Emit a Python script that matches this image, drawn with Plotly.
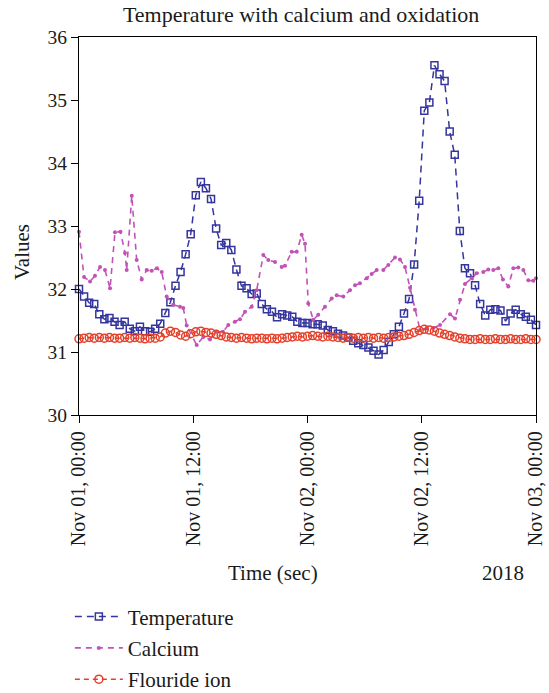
import pandas as pd
import plotly.graph_objects as go

# ---------------- data ----------------
start = pd.Timestamp("2018-11-01 00:00")
n_points = 91
grid_times = pd.date_range(start, periods=n_points, freq="32min")

temperature = [
    32.00, 31.88, 31.78, 31.76, 31.60, 31.52, 31.54, 31.48, 31.43, 31.48,
    31.37, 31.33, 31.40, 31.33, 31.32, 31.37, 31.45, 31.62, 31.79, 32.05,
    32.27, 32.55, 32.87, 33.49, 33.70, 33.60, 33.43, 32.96, 32.70, 32.73,
    32.62, 32.31, 32.05, 32.01, 31.92, 31.93, 31.76, 31.68, 31.64, 31.55,
    31.60, 31.58, 31.56, 31.48, 31.46, 31.46, 31.44, 31.44, 31.42, 31.35,
    31.33, 31.29, 31.26, 31.23, 31.18, 31.14, 31.11, 31.07, 31.02, 30.96,
    31.03, 31.16, 31.28, 31.40, 31.61, 31.84, 32.39, 33.40, 34.83, 34.96,
    35.55, 35.41, 35.30, 34.50, 34.13, 32.92, 32.33, 32.25, 32.06, 31.76,
    31.58, 31.67, 31.68, 31.66, 31.49, 31.61, 31.67, 31.60, 31.56, 31.51,
    31.43,
]

flouride = [
    31.21, 31.22, 31.23, 31.22, 31.23, 31.22, 31.23, 31.22, 31.22, 31.23,
    31.22, 31.23, 31.22, 31.21, 31.22, 31.22, 31.24, 31.30, 31.33, 31.31,
    31.27, 31.25, 31.29, 31.32, 31.33, 31.31, 31.30, 31.28, 31.26, 31.24,
    31.23, 31.22, 31.23, 31.22, 31.21, 31.22, 31.22, 31.21, 31.22, 31.21,
    31.22, 31.23, 31.24, 31.25, 31.24, 31.25, 31.26, 31.25, 31.24, 31.25,
    31.24, 31.23, 31.22, 31.23, 31.22, 31.23, 31.22, 31.23, 31.22, 31.23,
    31.22, 31.23, 31.24, 31.25, 31.26, 31.28, 31.31, 31.34, 31.36, 31.35,
    31.33, 31.30, 31.28, 31.26, 31.24, 31.22, 31.21, 31.20, 31.20, 31.21,
    31.20, 31.20, 31.21, 31.20, 31.20, 31.21, 31.20, 31.20, 31.21, 31.20,
    31.20,
]

calcium_hours = [
    0.00, 0.53, 1.16, 1.68, 2.21, 2.73, 3.26, 3.78, 4.36, 4.83,
    5.01, 5.54, 6.06, 6.59, 7.11, 7.64, 8.19, 8.69, 9.21, 9.90,
    10.61, 10.95, 11.31, 12.36, 13.06, 13.76, 14.46, 15.12, 15.68, 16.38,
    16.91, 17.44, 18.14, 18.66, 19.36, 19.88, 20.59, 21.29, 21.64, 22.34,
    22.87, 23.39, 23.74, 24.08, 24.61, 25.13, 25.84, 26.54, 27.07, 27.76,
    28.46, 28.99, 29.51, 30.22, 30.74, 31.27, 31.96, 32.49, 33.19, 33.71,
    34.24, 34.77, 35.29, 35.82, 36.52, 37.21, 37.92, 38.97, 39.49, 40.02,
    40.54, 41.25, 41.77, 42.46, 42.99, 43.51, 44.04, 44.53, 45.09, 45.62,
    46.14, 46.67, 47.19, 47.72, 48.00,
]
calcium = [
    32.91, 32.19, 32.12, 32.21, 32.35, 32.30, 32.01, 32.90, 32.91, 32.57,
    32.30, 33.48, 32.46, 32.15, 32.30, 32.29, 32.33, 32.27, 31.88, 31.75,
    31.72, 31.70, 31.42, 31.11, 31.24, 31.20, 31.32, 31.32, 31.43, 31.48,
    31.52, 31.64, 31.72, 31.98, 32.54, 32.46, 32.43, 32.35, 32.37, 32.59,
    32.59, 32.86, 32.72, 31.77, 31.51, 31.59, 31.72, 31.85, 31.90, 31.88,
    31.98, 32.06, 32.09, 32.17, 32.24, 32.30, 32.30, 32.38, 32.50, 32.47,
    32.35, 32.02, 31.67, 31.35, 31.38, 31.38, 31.43, 31.60, 31.53, 31.83,
    32.08, 32.17, 32.25, 32.27, 32.31, 32.30, 32.33, 32.15, 32.04, 32.33,
    32.34, 32.30, 32.14, 32.13, 32.17,
]
calcium_times = start + pd.to_timedelta(calcium_hours, unit="h")

series_names = ["Temperature", "Calcium", "Flouride ion"]
title_text = "Temperature with calcium and oxidation"
x_title = "Time (sec)"
y_title = "Values"
year_label = "2018"

# ---------------- figure ----------------
FONT = "Liberation Serif"
TXT = "#1a1a1a"
BLUE = "#35359e"
PINK = "#c252b6"
RED = "#e4402a"

fig = go.Figure()
fig.add_trace(go.Scatter(
    x=grid_times, y=temperature, name=series_names[0], mode="lines+markers",
    line=dict(color=BLUE, width=1.5, dash="7px,5px"),
    marker=dict(symbol="square-open", size=7, color=BLUE, line=dict(width=1.5, color=BLUE)),
    legendgroup="a", cliponaxis=False,
))
fig.add_trace(go.Scatter(
    x=calcium_times, y=calcium, name=series_names[1], mode="lines+markers",
    line=dict(color=PINK, width=1.6, dash="6px,5px"),
    marker=dict(symbol="circle", size=4, color=PINK),
    legendgroup="b", cliponaxis=False,
))
fig.add_trace(go.Scatter(
    x=grid_times, y=flouride, name=series_names[2], mode="lines+markers",
    line=dict(color=RED, width=1.5, dash="5px,4px"),
    marker=dict(symbol="circle-open", size=8, color=RED, line=dict(width=1.5, color=RED)),
    legendgroup="c", cliponaxis=False,
))

fig.update_layout(
    width=549, height=693,
    margin=dict(l=79, r=13, t=37, b=278, autoexpand=False),
    paper_bgcolor="white", plot_bgcolor="white",
    font=dict(family=FONT, size=19, color=TXT),
    title=dict(text=title_text, x=0.486, xref="paper", xanchor="center",
               y=1 - 14 / 693, yref="container", yanchor="middle",
               font=dict(family=FONT, size=22, color=TXT)),
    showlegend=True,
    legend=dict(x=-0.02, y=-0.48, xanchor="left", yanchor="top",
                traceorder="grouped", tracegroupgap=1, itemwidth=48,
                font=dict(family=FONT, size=21, color=TXT),
                bgcolor="rgba(0,0,0,0)"),
    xaxis=dict(
        type="date",
        range=[start, start + pd.Timedelta(hours=48)],
        tick0=start, dtick=12 * 3600 * 1000,
        tickformat="%b %d, %H:%M",
        tickangle=-90, automargin=False,
        ticks="outside", ticklen=7, tickcolor="black", tickwidth=1,
        showline=True, linecolor="black", linewidth=1.3, mirror=True,
        showgrid=False, zeroline=False,
        tickfont=dict(family=FONT, size=20, color=TXT),
    ),
    yaxis=dict(
        range=[30, 36], dtick=1, tick0=30, automargin=False,
        ticks="outside", ticklen=7, tickcolor="black", tickwidth=1,
        showline=True, linecolor="black", linewidth=1.3, mirror=True,
        showgrid=False, zeroline=False,
        tickfont=dict(family=FONT, size=19.5, color=TXT),
    ),
    annotations=[
        dict(text=y_title, xref="paper", yref="paper",
             x=(22 - 79) / 457, y=(415 - 252) / 378, textangle=-90,
             showarrow=False, xanchor="center", yanchor="middle",
             font=dict(family=FONT, size=21, color=TXT)),
        dict(text=x_title, xref="paper", yref="paper",
             x=(273 - 79) / 457, y=(415 - 573) / 378,
             showarrow=False, xanchor="center", yanchor="middle",
             font=dict(family=FONT, size=21, color=TXT)),
        dict(text=year_label, xref="paper", yref="paper",
             x=(503 - 79) / 457, y=(415 - 573) / 378,
             showarrow=False, xanchor="center", yanchor="middle",
             font=dict(family=FONT, size=21, color=TXT)),
    ],
)

fig.write_html("out.html")
